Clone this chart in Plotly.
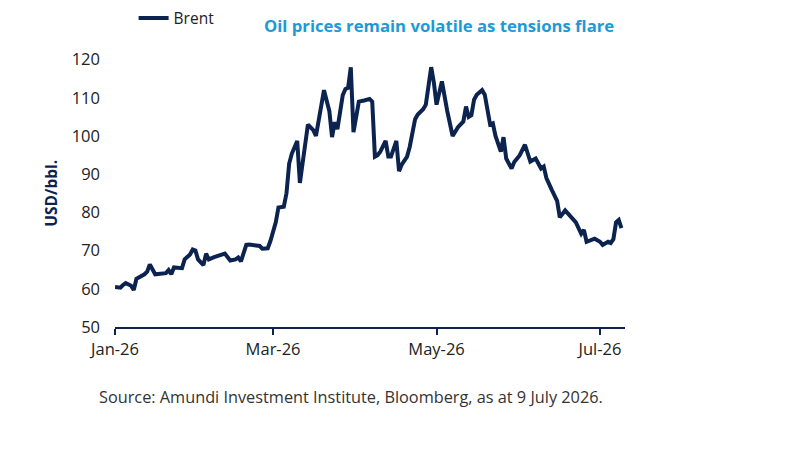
import plotly.graph_objects as go

dates = [
    "2026-01-01", "2026-01-03", "2026-01-04", "2026-01-05", "2026-01-07", "2026-01-08", "2026-01-09",
    "2026-01-11", "2026-01-12", "2026-01-13", "2026-01-14", "2026-01-16", "2026-01-18", "2026-01-20",
    "2026-01-21", "2026-01-22", "2026-01-23", "2026-01-25", "2026-01-26", "2026-01-27", "2026-01-29",
    "2026-01-30", "2026-01-31", "2026-02-01", "2026-02-03", "2026-02-04", "2026-02-05", "2026-02-07",
    "2026-02-08", "2026-02-10", "2026-02-11", "2026-02-13", "2026-02-15", "2026-02-16", "2026-02-17",
    "2026-02-19", "2026-02-20", "2026-02-22", "2026-02-24", "2026-02-25", "2026-02-27", "2026-02-28",
    "2026-03-01", "2026-03-02", "2026-03-03", "2026-03-05", "2026-03-06", "2026-03-07", "2026-03-08",
    "2026-03-10", "2026-03-11", "2026-03-12", "2026-03-14", "2026-03-16", "2026-03-17", "2026-03-18",
    "2026-03-19", "2026-03-20", "2026-03-22", "2026-03-23", "2026-03-24", "2026-03-25", "2026-03-27",
    "2026-03-28", "2026-03-29", "2026-03-30", "2026-03-31", "2026-04-02", "2026-04-04", "2026-04-06",
    "2026-04-07", "2026-04-08", "2026-04-09", "2026-04-10", "2026-04-12", "2026-04-13", "2026-04-14",
    "2026-04-16", "2026-04-17", "2026-04-18", "2026-04-20", "2026-04-21", "2026-04-23", "2026-04-24",
    "2026-04-26", "2026-04-27", "2026-04-29", "2026-04-30", "2026-05-01", "2026-05-03", "2026-05-05",
    "2026-05-07", "2026-05-09", "2026-05-11", "2026-05-12", "2026-05-13", "2026-05-14", "2026-05-15",
    "2026-05-16", "2026-05-18", "2026-05-19", "2026-05-21", "2026-05-22", "2026-05-23", "2026-05-25",
    "2026-05-26", "2026-05-27", "2026-05-29", "2026-05-30", "2026-06-01", "2026-06-03", "2026-06-05",
    "2026-06-07", "2026-06-09", "2026-06-10", "2026-06-11", "2026-06-13", "2026-06-15", "2026-06-16",
    "2026-06-18", "2026-06-22", "2026-06-24", "2026-06-25", "2026-06-26", "2026-06-29", "2026-07-01",
    "2026-07-02", "2026-07-04", "2026-07-05", "2026-07-06", "2026-07-07", "2026-07-08", "2026-07-09",
]

brent = [
    60.5, 60.3, 61.0, 61.5, 60.8, 59.7, 62.6,
    63.3, 63.8, 64.5, 66.4, 63.8, 64.0, 64.1,
    64.9, 63.8, 65.6, 65.3, 65.4, 67.7, 69.0,
    70.3, 70.0, 67.7, 66.2, 69.2, 67.7, 68.3,
    68.5, 68.8, 69.2, 67.4, 67.7, 68.2, 67.2,
    71.5, 71.6, 71.4, 71.2, 70.5, 70.6, 72.5,
    75.0, 77.4, 81.3, 81.5, 85.0, 92.8, 95.4,
    98.7, 87.7, 92.8, 103.0, 101.5, 100.0, 104.0,
    107.5, 112.0, 106.5, 99.7, 103.6, 101.8, 110.7,
    112.3, 112.6, 118.0, 101.0, 109.0, 109.3, 109.7,
    109.0, 94.6, 95.0, 95.9, 98.7, 94.6, 94.6,
    98.7, 90.8, 92.5, 94.6, 97.2, 104.4, 105.6,
    107.0, 108.2, 118.0, 114.0, 108.2, 114.3, 106.5,
    100.0, 102.3, 103.8, 107.7, 105.0, 105.4, 109.5,
    110.8, 112.0, 110.8, 103.0, 103.3, 100.0, 95.9,
    99.7, 94.1, 91.5, 93.2, 94.9, 97.7, 93.3,
    94.1, 91.5, 92.0, 89.0, 85.9, 83.0, 78.7,
    80.5, 77.4, 74.4, 75.4, 72.3, 73.1, 72.3,
    71.5, 72.3, 72.0, 73.0, 77.4, 78.0, 75.9,
]

x_tickvals = ["2026-01-01", "2026-03-01", "2026-05-01", "2026-07-01"]
x_ticktext = ["Jan-26", "Mar-26", "May-26", "Jul-26"]
y_tickvals = [50, 60, 70, 80, 90, 100, 110, 120]

title_text = "Oil prices remain volatile as tensions flare"
source_text = "Source: Amundi Investment Institute, Bloomberg, as at 9 July 2026."

NAVY = "#0c2350"
FONT = "Open Sans"

fig = go.Figure()
fig.add_trace(go.Scatter(
    x=dates, y=brent, mode="lines", name="Brent",
    line=dict(color=NAVY, width=4),
))

fig.update_layout(
    width=800, height=450,
    margin=dict(l=115, r=175, t=54, b=123),
    paper_bgcolor="white", plot_bgcolor="white",
    font=dict(family=FONT, color="#222222", size=16),
    showlegend=True,
    legend=dict(
        orientation="h", xref="container", yref="container",
        x=0.167, y=0.997, xanchor="left", yanchor="top",
        font=dict(size=15.5, color="#222222"),
        bgcolor="rgba(0,0,0,0)",
    ),
    xaxis=dict(
        type="date",
        range=["2026-01-01", "2026-07-10 08:00"],
        tickvals=x_tickvals, ticktext=x_ticktext,
        showline=True, linecolor=NAVY, linewidth=2,
        ticks="outside", ticklen=6, tickcolor=NAVY, tickwidth=2,
        showgrid=False, zeroline=False,
        tickfont=dict(size=16.5, color="#222222"),
    ),
    yaxis=dict(
        range=[50, 120],
        tickvals=y_tickvals,
        showline=False, showgrid=False, zeroline=False,
        ticks="", ticklabelstandoff=14,
        tickfont=dict(size=16.5, color="#222222"),
        title=dict(text="<b>USD/bbl.</b>", font=dict(size=15.5, color=NAVY), standoff=10),
    ),
)

fig.add_annotation(
    xref="paper", yref="paper", x=(262 - 115) / 510, y=1 + (54 - 19) / 273,
    xanchor="left", yanchor="middle", showarrow=False,
    text="<b>" + title_text + "</b>",
    font=dict(family=FONT, size=16.7, color="#1d9ad6"),
)
fig.add_annotation(
    xref="paper", yref="paper", x=(97 - 115) / 510, y=-(398 - 327) / 273,
    xanchor="left", yanchor="middle", showarrow=False,
    text=source_text,
    font=dict(family=FONT, size=16.3, color="#333333"),
)

fig.write_html("out.html")
